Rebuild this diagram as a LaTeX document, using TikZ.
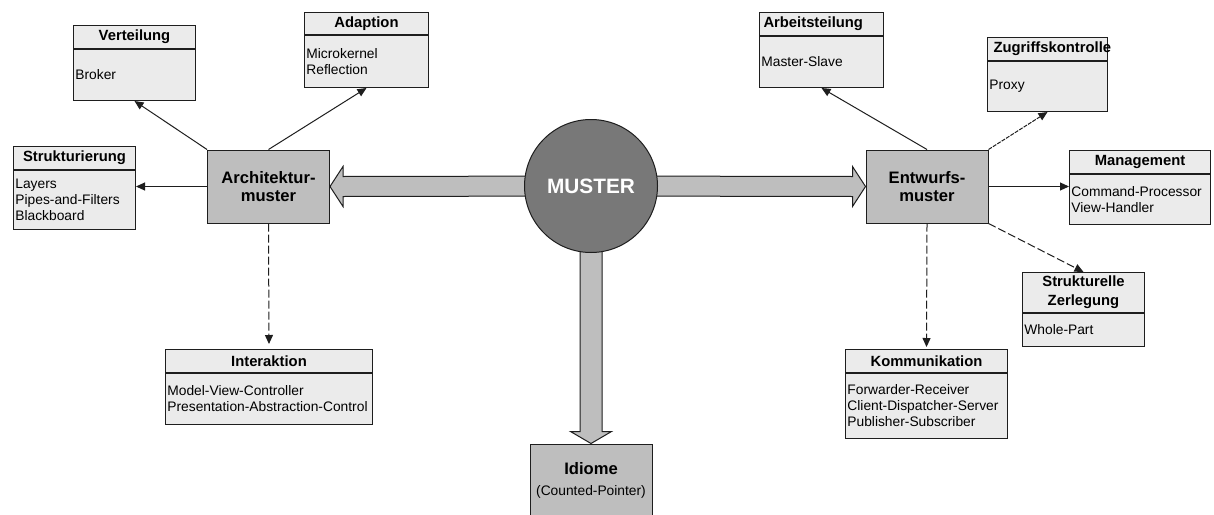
\documentclass[tikz,border=0pt]{standalone}
\usepackage{fontspec}
\setmainfont{Liberation Sans}
\usetikzlibrary{arrows.meta,calc,backgrounds}

\definecolor{linec}{HTML}{1E1E1E}
\definecolor{boxfill}{HTML}{EBEBEB}
\definecolor{mainfill}{HTML}{BEBEBE}
\definecolor{hubfill}{HTML}{787878}

\tikzset{
  hdrbox/.style={draw=linec, fill=boxfill, line width=0.5pt, inner sep=0pt,
    anchor=north west, align=center, font=\fontsize{7.4}{9.5}\selectfont\bfseries},
  bodybox/.style={draw=linec, fill=boxfill, line width=0.5pt, inner sep=0pt,
    anchor=north west},
  bodytext/.style={anchor=west, inner xsep=1pt, inner ysep=0pt, align=left,
    font=\fontsize{6.9}{8}\selectfont},
  mainbox/.style={draw=linec, fill=mainfill, line width=0.5pt, inner sep=0pt,
    minimum width=61pt, minimum height=36.5pt, align=center,
    font=\fontsize{8.3}{9}\selectfont\bfseries},
  hub/.style={circle, draw=linec, fill=hubfill, line width=0.5pt, inner sep=0pt,
    minimum size=66.5pt, text=white, font=\fontsize{10.4}{12}\selectfont\bfseries},
  bigarrow/.style={draw=linec, fill=mainfill, line width=0.5pt, line join=miter},
  link/.style={draw=linec, line width=0.5pt, -{Triangle[length=4.5pt,width=4pt]}},
  dlink/.style={link, dash pattern=on 4pt off 1.5pt},
  zlink/.style={link, dash pattern=on 2pt off 0.6pt},
}

% #1 extra header options, #2 name, #3 x, #4 y, #5 width, #6 header height,
% #7 body height, #8 header text, #9 body text
\newcommand\umlbox[9][]{%
  \node[hdrbox, minimum width=#5, minimum height=#6, #1] (#2h) at (#3,#4) {#8};
  \node[bodybox, minimum width=#5, minimum height=#7] (#2) at (#2h.south west) {};
  \node[bodytext] (#2t) at (#2.west) {#9};
}

\begin{document}
\begin{tikzpicture}[x=0.5pt, y=-0.5pt]
  \useasboundingbox (0,0) rectangle (1214,514);

  % central hub and the three main categories
  \node[hub] (mu) at (591,186) {MUSTER};
  \node[mainbox] (arch) at (268.5,186.5) {Architektur-\\muster};
  \node[mainbox] (ent) at (927,186.5) {Entwurfs-\\muster};
  \node[mainbox, font=\fontsize{8.3}{9.5}\selectfont] (idiom) at (591,480.5)
    {\textbf{Idiome}\\[1pt]{\fontsize{6.9}{8}\selectfont (Counted-Pointer)}};

  % block arrows from the hub, kept behind the circle
  \begin{scope}[on background layer]
    \fill[white] (0,0) rectangle (1214,514);
    \draw[bigarrow] (arch.east) -- ++(13,-20) -- ++(0,10)
      -- ($(mu.center)+(0,-10)$) -- ($(mu.center)+(0,10)$)
      -- ($(arch.east)+(13,10)$) -- ++(0,10) -- cycle;
    \draw[bigarrow] (ent.west) -- ++(-13,-20) -- ++(0,10)
      -- ($(mu.center)+(0,-10)$) -- ($(mu.center)+(0,10)$)
      -- ($(ent.west)+(-13,10)$) -- ++(0,10) -- cycle;
    \draw[bigarrow] (idiom.north) -- ++(-20.5,-12) -- ++(9.5,0)
      -- ($(mu.center)+(-11,0)$) -- ($(mu.center)+(11,0)$)
      -- ($(idiom.north)+(11,-12)$) -- ++(9.5,0) -- cycle;
  \end{scope}

  % architecture patterns
  \umlbox{vt}{73}{25}{61pt}{11.5pt}{25.5pt}{Verteilung}{Broker}
  \umlbox{ad}{304}{12}{62pt}{11pt}{26pt}{Adaption}{Microkernel\\Reflection}
  \umlbox{sr}{13}{146}{61pt}{11.5pt}{29.5pt}{Strukturierung}
    {Layers\\Pipes-and-Filters\\Blackboard}
  \umlbox{ia}{165}{349}{103.5pt}{11.5pt}{25.5pt}{Interaktion}
    {\fontsize{6.9}{7}\selectfont Model-View-Controller\\Presentation-Abstraction-Control}

  % design patterns
  \umlbox[text width=58pt, align=left, inner xsep=2pt]{at}{759}{12}{62pt}{11.5pt}{25.5pt}
    {Arbeitsteilung}{Master-Slave}
  \umlbox[text width=54pt, align=left, inner xsep=3pt]{zk}{987}{37}{60pt}{11.5pt}{25pt}
    {Zugriffskontrolle}{Proxy}
  \umlbox{mg}{1069}{150}{70.5pt}{11.5pt}{25pt}{Management}
    {Command-Processor\\View-Handler}
  \umlbox{sz}{1022}{272}{61pt}{20pt}{16.5pt}{Strukturelle\\Zerlegung}{Whole-Part}
  \umlbox{km}{845}{349}{81pt}{11.5pt}{32.5pt}{Kommunikation}
    {Forwarder-Receiver\\Client-Dispatcher-Server\\Publisher-Subscriber}

  % connectors
  \draw[link] (arch.north west) -- (vt.south);
  \draw[link] (arch.north) -- (ad.south);
  \draw[link] (arch.west) -- (arch.west -| sr.east);
  \draw[dlink, shorten >=2.5pt] (arch.south) -- (iah.north);

  \draw[link] (ent.north) -- (at.south);
  \draw[zlink] (ent.north east) -- (zk.south);
  \draw[link] (ent.east) -- (ent.east -| mg.west);
  \draw[dlink] (ent.south east) -- (szh.north);
  \draw[dlink, shorten >=1pt] (ent.south) -- (kmh.north);
\end{tikzpicture}
\end{document}
